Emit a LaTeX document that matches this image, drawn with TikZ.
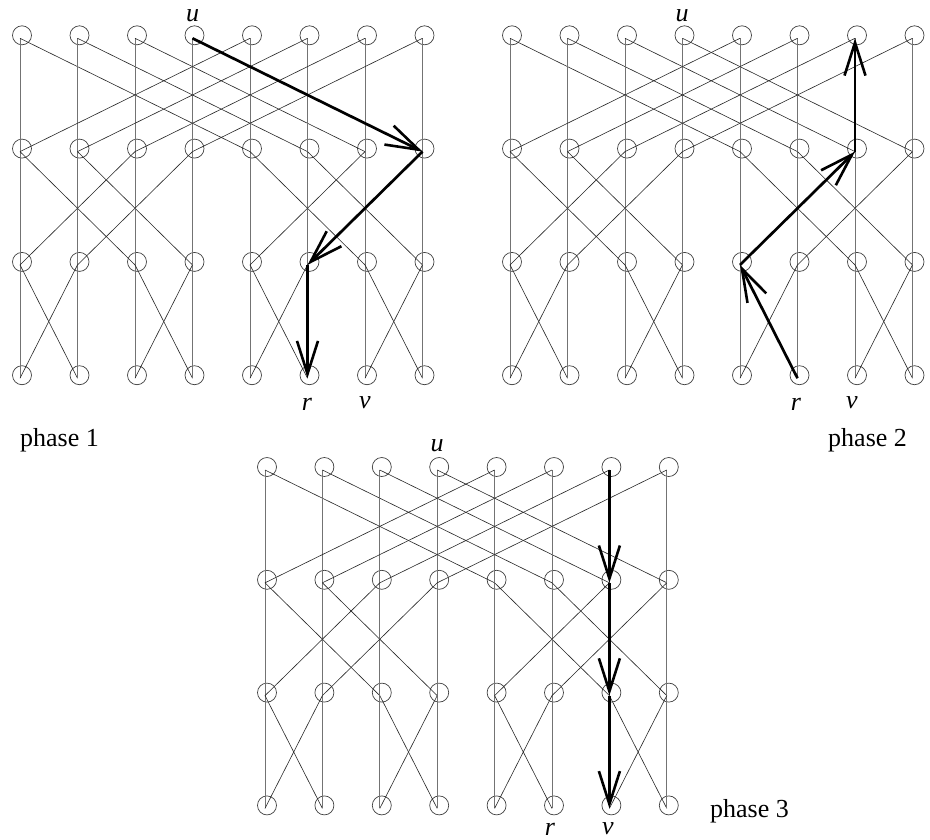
\documentclass[tikz,border=0pt]{standalone}
\usepackage{fontspec}
\setmainfont{Liberation Serif}
\usetikzlibrary{arrows.meta}
\tikzset{
  vtx/.style={circle,draw=black!75,line width=0.7pt,minimum size=19pt,inner sep=0pt},
  vline/.style={draw=black!55,line width=0.7pt},
  xline/.style={draw=black!85,line width=0.6pt},
  bold/.style={draw=black,line width=2.7pt,-{Straight Barb[length=33pt,width=21pt,line width=2.6pt]}},
  lab/.style={font=\fontsize{26}{28}\selectfont\itshape,inner sep=0pt},
  phase/.style={font=\fontsize{26}{28}\selectfont,inner sep=0pt,anchor=base west}
}
\newcommand\bfly[5]{%
  \foreach \r in {0,...,3}{\foreach \c in {0,...,7}{%
    \coordinate (#1-\r-\c) at ({#2+\c*#4},{#3+\r*#5});
    \node[vtx] (#1n-\r-\c) at ([shift={(2,-3)}]#1-\r-\c) {};
  }}%
  \foreach \r/\d in {0/4,1/2,2/1}{%
    \pgfmathtruncatemacro\rr{\r+1}%
    \foreach \c in {0,...,7}{%
      \pgfmathtruncatemacro\bit{mod(floor(\c/\d),2)}%
      \pgfmathtruncatemacro\t{\c+\d-2*\d*\bit}%
      \draw[vline] (#1-\r-\c) -- (#1-\rr-\c);
      \draw[xline] (#1-\r-\c) -- (#1-\rr-\t);
    }}%
}
\begin{document}
\begin{tikzpicture}[x=1pt,y=-1pt]
\fill[white] (0,0) rectangle (930,839);
\useasboundingbox (0,0) rectangle (930,839);
% phase 1
\bfly{a}{20}{38.3}{57.5}{113.3}
\draw[bold] (a-0-3) -- (a-1-7);
\draw[bold] (a-1-7) -- (a-2-5);
\draw[bold] (a-2-5) -- (a-3-5);
\node[lab] (ua) at (192.5,16) {u};
\node[lab] (ra) at (307,404) {r};
\node[lab] (va) at (365,403) {v};
\node[phase] (pa) at (20,446) {phase 1};
% phase 2
\bfly{b}{510}{38.3}{57.5}{113.3}
\draw[bold] (b-3-5) -- (b-2-4);
\draw[bold] (b-2-4) -- (b-1-6);
\draw[bold] (b-1-6) -- (b-0-6);
\node[lab] (ub) at (682,16) {u};
\node[lab] (rb) at (796,404) {r};
\node[lab] (vb) at (852,403) {v};
\node[phase] (pb) at (828,446) {phase 2};
% phase 3
\bfly{c}{265}{470}{57.4}{112.8}
\draw[bold] (c-0-6) -- (c-1-6);
\draw[bold] (c-1-6) -- (c-2-6);
\draw[bold] (c-2-6) -- (c-3-6);
\node[lab] (uc) at (437,446) {u};
\node[lab] (rc) at (550,829) {r};
\node[lab] (vc) at (608,829) {v};
\node[phase] (pc) at (710,817) {phase 3};
\end{tikzpicture}
\end{document}
